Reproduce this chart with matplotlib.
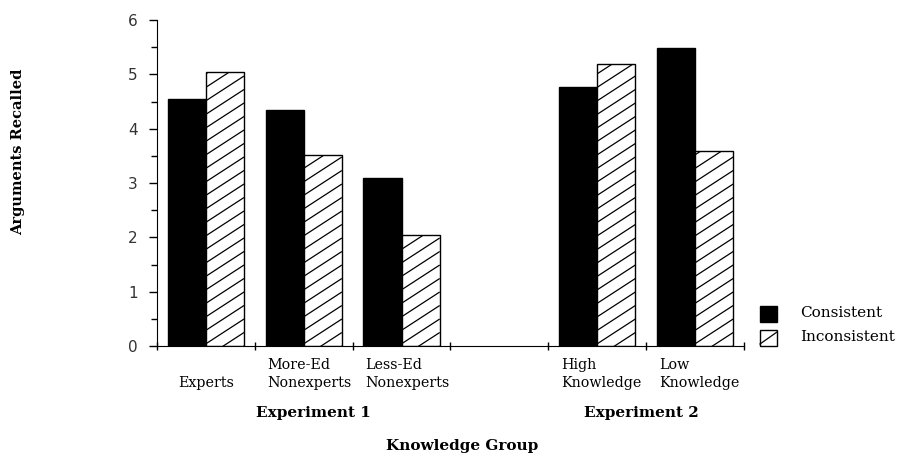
import matplotlib
matplotlib.use("Agg")
import matplotlib.pyplot as plt
from matplotlib.patches import Rectangle
import numpy as np

categories = ["Experts", "More-Ed\nNonexperts", "Less-Ed\nNonexperts", "", "High\nKnowledge", "Low\nKnowledge"]
consistent = [4.55, 4.35, 3.1, None, 4.77, 5.49]
inconsistent = [5.05, 3.52, 2.05, None, 5.19, 3.59]
series_names = ["Consistent", "Inconsistent"]
groups = ["Experiment 1", "Experiment 2"]
y_ticks = [0, 1, 2, 3, 4, 5, 6]

fig = plt.figure(figsize=(8.97, 4.53), dpi=100)
ax = fig.add_axes([0.175, 0.2362, 0.6544, 0.7196])
ax.set_xlim(0, 6)
ax.set_ylim(0, 6)


def hatch_bar(patch, spacing_px=13.5, slope_px=0.65):
    """Draw shallow diagonal hatch lines clipped to a bar patch."""
    fig.canvas.draw()
    bb = ax.transData.transform
    inv = ax.transData.inverted().transform
    x0, y0 = patch.get_x(), patch.get_y()
    x1, y1 = x0 + patch.get_width(), y0 + patch.get_height()
    (px0, py0), (px1, py1) = bb((x0, y0)), bb((x1, y1))
    wpx = px1 - px0
    c = py0 - slope_px * wpx
    while c < py1:
        pts = inv([(px0, c), (px1, c + slope_px * wpx)])
        ln, = ax.plot(pts[:, 0], pts[:, 1], color="black", lw=0.9, solid_capstyle="butt")
        ln.set_clip_path(patch)
        c += spacing_px


w = 0.39
x = np.arange(len(categories)) + 0.5
for i in range(len(categories)):
    if consistent[i] is None:
        continue
    ax.bar(x[i] - w / 2, consistent[i], width=w, color="black", edgecolor="black", linewidth=1)
    b = ax.bar(x[i] + w / 2, inconsistent[i], width=w, color="white", edgecolor="black", linewidth=1, zorder=2)
    hatch_bar(b.patches[0])

ax.set_xlim(0, 6)
ax.set_ylim(0, 6)
ax.spines["top"].set_visible(False)
ax.spines["right"].set_visible(False)
ax.set_xticks(np.arange(0, 7))
ax.set_xticklabels([])
ax.set_yticks(y_ticks)
ax.set_yticks(np.arange(0.5, 6, 1), minor=True)
ax.tick_params(axis="y", which="major", direction="out", length=6, width=1, labelsize=11, pad=8)
ax.tick_params(axis="y", which="minor", direction="out", length=4, width=1)
ax.tick_params(axis="x", which="major", direction="inout", length=6, width=1)
for lab in ax.get_yticklabels():
    lab.set_fontfamily("DejaVu Sans")
    lab.set_color("#333333")

cat_font = dict(fontsize=10.3, family="DejaVu Serif", linespacing=1.35)
for i, c in enumerate(categories):
    if not c:
        continue
    if "\n" in c:
        ax.text(i + 0.13, -0.22, c, ha="left", va="top", **cat_font)
    else:
        ax.text(x[i], -0.22, "\n" + c, ha="center", va="top", **cat_font)

ax.text(1.6, -1.23, groups[0], ha="center", va="center", fontsize=11, family="DejaVu Serif", fontweight="bold")
ax.text(4.95, -1.23, groups[1], ha="center", va="center", fontsize=11, family="DejaVu Serif", fontweight="bold")
fig.text(462 / 897, 1 - 446 / 453, "Knowledge Group", ha="center", va="center", fontsize=11,
         family="DejaVu Serif", fontweight="bold")
fig.text(18 / 897, 1 - 152 / 453, "Arguments Recalled", ha="center", va="center", rotation=90,
         fontsize=10.5, family="DejaVu Serif", fontweight="bold")

# legend
fig.patches.append(Rectangle((760 / 897, 1 - 322 / 453), 17 / 897, 16 / 453, transform=fig.transFigure,
                             facecolor="black", edgecolor="black"))
fig.patches.append(Rectangle((760 / 897, 1 - 346 / 453), 17 / 897, 16 / 453, transform=fig.transFigure,
                             facecolor="white", edgecolor="black", linewidth=1))
fig.lines.append(plt.Line2D([760 / 897, 777 / 897], [1 - 344 / 453, 1 - 332 / 453], transform=fig.transFigure,
                            color="black", lw=0.9))
fig.text(800 / 897, 1 - 313 / 453, series_names[0], ha="left", va="center", fontsize=11, family="DejaVu Serif")
fig.text(800 / 897, 1 - 337 / 453, series_names[1], ha="left", va="center", fontsize=11, family="DejaVu Serif")

fig.savefig("out.png", dpi=100)
